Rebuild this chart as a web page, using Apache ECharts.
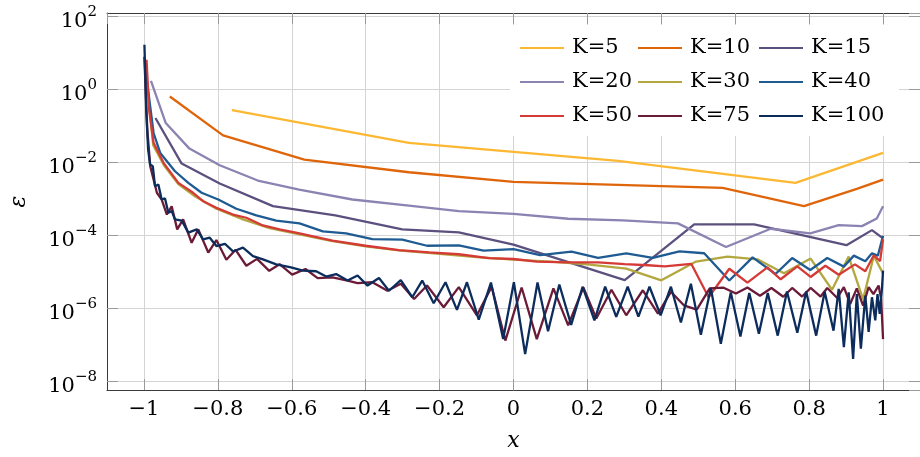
<!DOCTYPE html>
<html>
<head>
<meta charset="utf-8">
<script src="https://cdn.jsdelivr.net/npm/echarts@6/dist/echarts.min.js"></script>
<style>
html,body{margin:0;padding:0;background:#fff;}
#chart{width:920px;height:457px;}
</style>
</head>
<body>
<div id="chart"></div>
<script>
// ---- data ----
const xTickLabels = ['\u22121','\u22120.8','\u22120.6','\u22120.4','\u22120.2','0','0.2','0.4','0.6','0.8','1'];
const yTickExponents = [-8,-6,-4,-2,0,2];

const xK5 = [-0.762,-0.283,0.283,0.763,1.0];
const yK5 = [0.277,0.0348,0.0112,0.0028,0.0185];

const xK10 = [-0.93,-0.786,-0.566,-0.283,0,0.283,0.566,0.786,0.929,1.0];
const yK10 = [0.65,0.056,0.0122,0.00547,0.00299,0.00247,0.00205,0.000645,0.00192,0.00345];

const xK15 = [-0.969,-0.898,-0.795,-0.651,-0.482,-0.301,-0.148,0,0.301,0.489,0.651,0.901,0.970,1.0];
const yK15 = [0.1675,0.00944,0.00269,0.000644,0.00036,0.000149,0.000123,5.7e-5,6.1e-6,2.04e-4,2.04e-4,5.5e-5,1.42e-4,8.4e-5];

const xK20 = [-0.981,-0.941,-0.877,-0.795,-0.692,-0.58,-0.436,-0.283,-0.148,0,0.148,0.296,0.445,0.575,0.696,0.803,0.880,0.943,0.983,1.0];
const yK20 = [1.75,0.122,0.0243,0.0085,0.00324,0.00184,0.00098,0.00067,0.00047,0.000394,0.000291,0.000263,0.000217,4.9e-5,0.000155,0.000116,0.000195,0.000183,0.000297,0.000644];

const xK30 = [-0.997,-0.975,-0.946,-0.907,-0.862,-0.804,-0.732,-0.660,-0.579,-0.494,-0.400,-0.305,-0.200,-0.100,0,0.100,0.200,0.305,0.400,0.494,0.579,0.660,0.732,0.804,0.862,0.907,0.946,0.975,1.0];
const yK30 = [5,0.03,0.0085,0.0026,0.0012,0.00055,0.00028,0.00016,0.000108,7.2e-5,5.1e-5,3.9e-5,3.2e-5,2.6e-5,2.2e-5,1.95e-5,1.64e-5,1.25e-5,6.0e-6,1.95e-5,2.67e-5,2.25e-5,9.3e-6,2.36e-5,3.3e-6,2.67e-5,1.8e-6,2.77e-5,9.3e-6];

const xK40 = [-0.997,-0.974,-0.956,-0.916,-0.880,-0.844,-0.799,-0.750,-0.696,-0.642,-0.579,-0.516,-0.453,-0.382,-0.301,-0.234,-0.148,-0.081,0,0.072,0.157,0.229,0.305,0.377,0.449,0.516,0.584,0.647,0.709,0.754,0.803,0.849,0.894,0.921,0.952,0.970,0.986,1.0];
const yK40 = [4.5,0.065,0.0185,0.00582,0.0028,0.0015,0.00098,0.000547,0.000359,0.000259,0.000217,0.000131,0.000116,8.1e-5,7.8e-5,5.3e-5,5.4e-5,3.9e-5,4.3e-5,2.95e-5,3.66e-5,2.45e-5,3.28e-5,2.45e-5,3.7e-5,3.3e-5,5.9e-6,2.55e-5,8.9e-6,2.44e-5,1.15e-5,2.44e-5,1.42e-5,2.84e-5,1.99e-5,3.28e-5,2.84e-5,1.0e-4];

const xK50 = [-0.993,-0.986,-0.974,-0.947,-0.907,-0.867,-0.840,-0.804,-0.759,-0.723,-0.678,-0.633,-0.579,-0.490,-0.400,-0.310,-0.229,-0.148,-0.067,0,0.063,0.148,0.229,0.301,0.364,0.409,0.481,0.528,0.584,0.633,0.687,0.723,0.768,0.804,0.844,0.880,0.924,0.952,0.975,0.992,1.0];
const yK50 = [6.6,0.28,0.035,0.0099,0.0028,0.0015,0.00088,0.00058,0.00038,0.00031,0.000191,0.000149,0.000116,7.3e-5,5.3e-5,4.0e-5,3.5e-5,3.1e-5,2.44e-5,2.3e-5,1.95e-5,1.86e-5,1.86e-5,1.67e-5,1.55e-5,1.45e-5,1.7e-5,2.06e-6,1.24e-5,5.2e-6,1.36e-5,6.4e-6,1.45e-5,7.4e-6,1.5e-5,8.5e-6,1.64e-5,1.06e-5,2.9e-5,2.0e-5,8.0e-5];

const xK75 = [-0.999,-0.991,-0.983,-0.965,-0.952,-0.938,-0.925,-0.910,-0.894,-0.871,-0.853,-0.826,-0.804,-0.777,-0.752,-0.723,-0.694,-0.661,-0.633,-0.599,-0.563,-0.530,-0.490,-0.449,-0.422,-0.382,-0.341,-0.305,-0.269,-0.234,-0.189,-0.148,-0.099,-0.059,-0.022,0.022,0.063,0.108,0.148,0.189,0.224,0.265,0.305,0.350,0.391,0.426,0.461,0.496,0.531,0.567,0.602,0.633,0.667,0.698,0.730,0.754,0.781,0.804,0.831,0.849,0.876,0.894,0.911,0.929,0.946,0.961,0.974,0.988,0.995,1.0];
const yK75 = [8,0.08,0.008,0.0015,9.8e-4,3.8e-4,6.4e-4,1.49e-4,2.8e-4,6.4e-5,1.49e-4,3.45e-5,7.6e-5,2.18e-5,4.1e-5,1.5e-5,2.32e-5,1.09e-5,1.66e-5,8.6e-6,1.22e-5,6.9e-6,7.2e-6,5.9e-6,5.0e-6,5.3e-6,3.1e-6,4.8e-6,1.85e-6,4.3e-6,1.1e-6,3.9e-6,6.6e-7,4.0e-6,1.34e-7,3.8e-6,1.47e-7,3.6e-6,3.5e-7,3.8e-6,5.4e-7,3.3e-6,6.6e-7,3.2e-6,7.3e-7,2.9e-6,1.24e-6,9.4e-7,3.6e-6,3.8e-6,2.6e-6,3.8e-6,2.26e-6,3.7e-6,2.13e-6,3.7e-6,2.15e-6,3.7e-6,2.15e-6,3.7e-6,1.97e-6,3.9e-6,1.35e-6,3.6e-6,1.22e-6,3.9e-6,2.5e-6,4.3e-6,1.8e-6,1.47e-7];

const xK100 = [-0.9987,-0.994,-0.9887,-0.9833,-0.976,-0.970,-0.961,-0.952,-0.943,-0.934,-0.925,-0.916,-0.898,-0.880,-0.857,-0.840,-0.822,-0.804,-0.781,-0.759,-0.732,-0.705,-0.678,-0.642,-0.602,-0.570,-0.534,-0.507,-0.480,-0.449,-0.422,-0.395,-0.364,-0.337,-0.305,-0.274,-0.247,-0.216,-0.184,-0.153,-0.126,-0.094,-0.061,-0.028,0.001,0.0315,0.065,0.0935,0.124,0.156,0.187,0.219,0.248,0.278,0.309,0.338,0.368,0.398,0.426,0.453,0.480,0.507,0.534,0.561,0.588,0.614,0.638,0.664,0.688,0.715,0.740,0.768,0.792,0.819,0.842,0.866,0.880,0.894,0.907,0.919,0.929,0.940,0.952,0.961,0.970,0.979,0.985,0.991,0.997,1.0];
const yK100 = [16.9,0.28,0.0228,0.00887,0.00798,0.00226,0.00252,0.00098,0.00105,0.000425,0.00047,0.000279,0.00026,0.000121,0.000149,7.9e-5,8.8e-5,5.2e-5,6.0e-5,3.7e-5,4.7e-5,2.77e-5,2.25e-5,1.64e-5,1.36e-5,1.1e-5,1.06e-5,7.6e-6,8.9e-6,5.9e-6,8.1e-6,4.3e-6,6.9e-6,3.1e-6,6.1e-6,2.06e-6,5.9e-6,1.41e-6,5.3e-6,9.3e-7,5.3e-6,5.0e-7,5.2e-6,1.47e-7,5.3e-6,5.7e-8,5.2e-6,2.4e-7,4.6e-6,3.6e-7,4.0e-6,4.8e-7,4.0e-6,6.0e-7,4.0e-6,6.1e-7,4.0e-6,6.6e-7,4.0e-6,4.2e-7,4.8e-6,1.94e-7,3.7e-6,1.09e-7,2.8e-6,1.74e-7,2.7e-6,2.07e-7,2.7e-6,1.83e-7,2.95e-6,2.2e-7,2.95e-6,1.83e-7,2.9e-6,2.5e-7,3.5e-6,8.9e-8,2.8e-6,4.2e-8,2.5e-6,8.0e-8,2.3e-6,2.3e-7,2.06e-6,4.8e-7,2.5e-6,7.2e-7,3.5e-6,1.1e-5];

const seriesNames = ['K=5','K=10','K=15','K=20','K=30','K=40','K=50','K=75','K=100'];
const seriesX = [xK5,xK10,xK15,xK20,xK30,xK40,xK50,xK75,xK100];
const seriesY = [yK5,yK10,yK15,yK20,yK30,yK40,yK50,yK75,yK100];
const seriesColors = ['#FDB833','#DF650B','#5C507E','#8C83B2','#B3A740','#1F5B93','#D43B36','#6B1B37','#0C2C5C'];

// ---- chart ----
const FONT = 'DejaVu Serif';
function zip(xs, ys){ const n=Math.min(xs.length, ys.length); const out=[]; for(let i=0;i<n;i++) out.push([xs[i], ys[i]]); return out; }
function fmtX(v){
  const r = Math.round(v*10)/10;
  const idx = Math.round((r + 1) / 0.2);
  if (idx >= 0 && idx < xTickLabels.length && Math.abs(-1 + idx*0.2 - r) < 1e-6) return xTickLabels[idx];
  return '';
}
function fmtY(v){
  const e = Math.round(Math.log10(v));
  if (yTickExponents.indexOf(e) < 0) return '';
  return '{b|10}{s|' + (e < 0 ? '\u2212' + (-e) : String(e)) + '}';
}
const frameLine = {show:true, onZero:false, lineStyle:{color:'#3a3a3a', width:1}};
const tickStyle = {show:true, inside:true, length:11, lineStyle:{color:'#9a9a9a', width:1}};
const yMin = Math.pow(10,-8.227), yMax = Math.pow(10,2.1);

const chart = echarts.init(document.getElementById('chart'), null, {renderer:'canvas'});
const option = {
  animation:false,
  backgroundColor:'#ffffff',
  textStyle:{fontFamily:FONT},
  grid:{left:107, top:13, width:817, height:378, containLabel:false},
  xAxis:[
    {type:'value', min:-1.1, max:1.1, splitNumber:10, position:'bottom',
     axisLine:frameLine, axisTick:tickStyle,
     axisLabel:{formatter:fmtX, fontFamily:FONT, fontSize:21, color:'#000', margin:9, showMinLabel:false, showMaxLabel:false},
     splitLine:{show:true, lineStyle:{color:'#d4d4d4', width:1}},
     name:'x', nameLocation:'middle', nameGap:40,
     nameTextStyle:{fontFamily:FONT, fontStyle:'italic', fontSize:22, color:'#000'}},
    {type:'value', min:-1.1, max:1.1, splitNumber:10, position:'top',
     axisLine:frameLine, axisTick:tickStyle, axisLabel:{show:false}, splitLine:{show:false}}
  ],
  yAxis:[
    {type:'log', logBase:100, min:yMin, max:yMax, position:'left',
     axisLine:frameLine, axisTick:tickStyle,
     axisLabel:{formatter:fmtY, margin:10, color:'#000', showMinLabel:false, showMaxLabel:false, padding:[3,0,0,0],
       rich:{
         b:{fontFamily:FONT, fontSize:21, lineHeight:28, verticalAlign:'bottom', color:'#000'},
         s:{fontFamily:FONT, fontSize:15, lineHeight:15, verticalAlign:'top', color:'#000'}
       }},
     splitLine:{show:true, lineStyle:{color:'#d4d4d4', width:1}},
     minorTick:{show:false}, minorSplitLine:{show:false},
     name:'\u03b5', nameLocation:'middle', nameRotate:90, nameGap:77,
     nameTextStyle:{fontFamily:FONT, fontStyle:'italic', fontSize:22, color:'#000'}},
    {type:'log', logBase:100, min:yMin, max:yMax, position:'right',
     axisLine:frameLine, axisTick:tickStyle, axisLabel:{show:false}, splitLine:{show:false}}
  ],
  graphic:[{type:'rect', shape:{x:510, y:25, width:389, height:111}, style:{fill:'#ffffff'}, z:3, silent:true}],
  legend:[[0,3,6],[1,4,7],[2,5,8]].map((idx, c) => ({
    data: idx.map(i => seriesNames[i]),
    orient:'vertical', left:[520,638,759][c], top:36, padding:0,
    icon:'rect', itemWidth:44, itemHeight:2, itemGap:10, selectedMode:false,
    textStyle:{fontFamily:FONT, fontSize:21, color:'#000', lineHeight:24, padding:[0,0,0,3]}
  })),
  series: seriesNames.map((n, i) => ({
    name:n, type:'line', xAxisIndex:0, yAxisIndex:0,
    data: zip(seriesX[i], seriesY[i]),
    symbol:'none', showSymbol:false, smooth:false,
    lineStyle:{color:seriesColors[i], width:2.3},
    itemStyle:{color:seriesColors[i]},
    emphasis:{disabled:true}
  }))
};
chart.setOption(option);
</script>
</body>
</html>
